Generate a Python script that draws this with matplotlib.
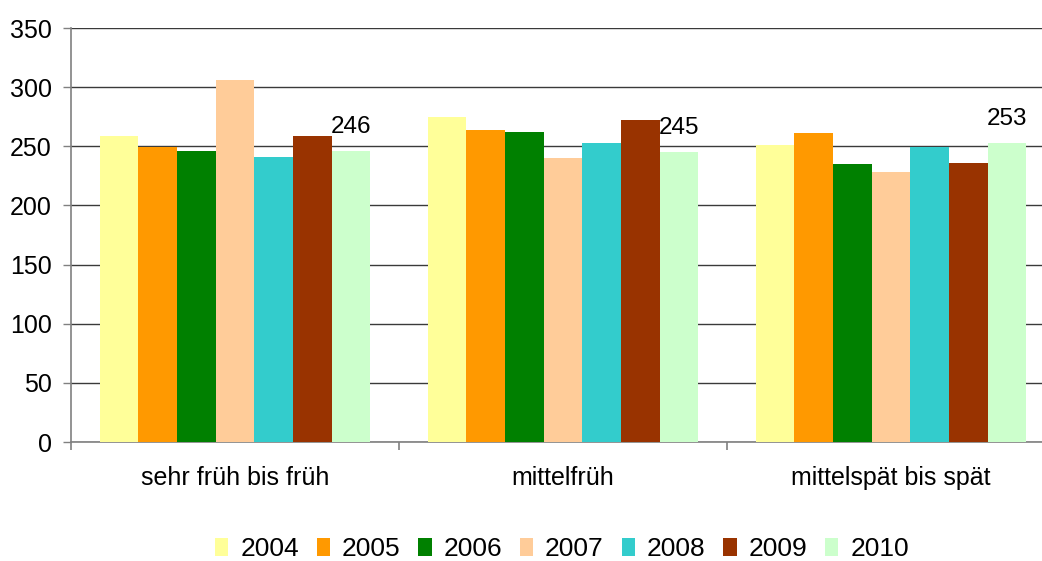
import matplotlib
matplotlib.use("Agg")
import matplotlib.pyplot as plt
import numpy as np

plt.rcParams['font.family'] = ['Liberation Sans', 'DejaVu Sans']

categories = ["sehr früh bis früh", "mittelfrüh", "mittelspät bis spät"]
years = ["2004", "2005", "2006", "2007", "2008", "2009", "2010"]
v2004 = [259, 275, 251]
v2005 = [249, 264, 261]
v2006 = [246, 262, 235]
v2007 = [306, 240, 228]
v2008 = [241, 253, 249]
v2009 = [259, 272, 236]
v2010 = [246, 245, 253]
series = [v2004, v2005, v2006, v2007, v2008, v2009, v2010]
colors = ["#FFFF99", "#FF9900", "#008000", "#FFCC99", "#33CCCC", "#993300", "#CCFFCC"]

fig = plt.figure(figsize=(10.42, 5.61), dpi=100)
ax = fig.add_axes([71/1042, 119/561, (1055-71)/1042, 414/561])

x = np.arange(len(categories))
w = 0.1177
n = len(series)
for i, (vals, c, yr) in enumerate(zip(series, colors, years)):
    pos = x + (i - (n - 1) / 2) * w
    ax.bar(pos, vals, width=w, color=c, label=yr, zorder=3, linewidth=0)
    if yr == "2010":
        for p, v in zip(pos, vals):
            ax.annotate(str(v), (p, v), xytext=(0, 9.5), textcoords="offset points",
                        ha="center", va="bottom", fontsize=17.5, zorder=4)

ax.set_xlim(-0.5, 2.5)
ax.set_ylim(0, 350)
ax.set_yticks(np.arange(0, 351, 50))
ax.yaxis.grid(True, color="#3a3a3a", linewidth=1.0, zorder=0)
ax.set_axisbelow(True)

ax.set_xticks(x)
ax.set_xticklabels(categories)
ax.set_xticks([-0.5, 0.5, 1.5, 2.5], minor=True)
ax.tick_params(axis="x", which="major", length=0, pad=17, labelsize=18)
ax.tick_params(axis="x", which="minor", length=6, width=1.2, color="#808080")
ax.tick_params(axis="y", length=6, width=1.0, color="#808080", labelsize=18, pad=8)

for s in ["top", "right"]:
    ax.spines[s].set_visible(False)
ax.spines["left"].set_color("#808080")
ax.spines["bottom"].set_color("#808080")
ax.spines["left"].set_linewidth(1.2)
ax.spines["bottom"].set_linewidth(1.2)

fig.legend(loc="center", bbox_to_anchor=(562/1042, 1 - 549/561), ncol=7, frameon=False,
           fontsize=19, handlelength=0.5, handleheight=0.65, handletextpad=0.45,
           columnspacing=0.68)

fig.savefig("out.png", dpi=100)
